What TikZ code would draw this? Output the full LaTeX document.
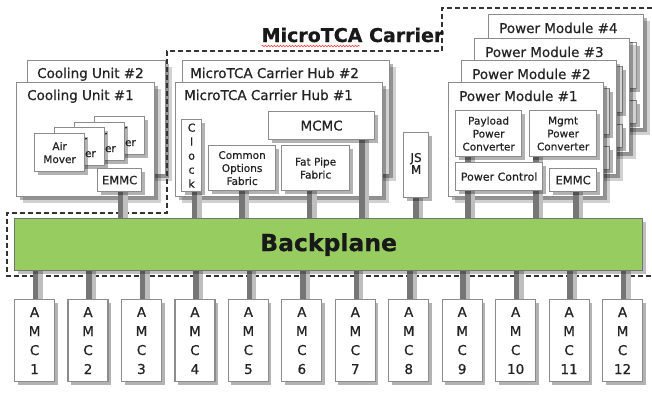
\documentclass[tikz,border=0pt]{standalone}
\usepackage{fontspec}
\setmainfont{DejaVu Sans}[FakeBold=0.6]
\usetikzlibrary{shadows,decorations.pathmorphing}
\pgfdeclarelayer{back}\pgfdeclarelayer{mid}
\pgfsetlayers{back,mid,main}
\definecolor{bord}{RGB}{140,140,140}
\definecolor{bpgreen}{RGB}{150,204,96}
\definecolor{stubc}{RGB}{118,118,118}
\definecolor{txt}{RGB}{35,35,35}
\newcommand\myfs[2]{\fontsize{#1}{#2}\selectfont}
\tikzset{
 box/.style={draw=bord,line width=1.2pt,fill=white,inner sep=0pt,anchor=north west,text=txt,align=center,
   drop shadow={shadow xshift=3pt,shadow yshift=-3pt,opacity=.3,fill=black}},
 bigsh/.style={drop shadow={shadow xshift=6pt,shadow yshift=-6pt,opacity=.18,fill=black}},
 ttl/.style={anchor=base west,inner sep=0pt,text=txt,font=\myfs{13.5}{16}},
 small/.style={font=\myfs{10.5}{13}},
 stub/.style={line width=5.5pt,draw=stubc,preaction={draw=black!25,line width=6pt,transform canvas={xshift=4pt}}},
 dashline/.style={draw=black!80,line width=1.1pt,dash pattern=on 5pt off 3pt},
}
\newcommand\bx[6][]{\node[box,minimum width=#4pt,minimum height=#5pt,#1] (#2) at (#3) {#6};}
\newcommand\pmout[3]{\begin{scope}[shift={(#2,#3)}]
 \bx[bigsh]{pm#1}{0,0}{155}{114}{}
 \node[ttl] (pm#1t) at (11,19) {Power Module \##1};
\end{scope}}
% hidden modules: inner boxes without readable text
\newcommand\pminhid[3]{\begin{scope}[shift={(#2,#3)}]
 \bx{pm#1pay}{7,28}{66}{46}{}
 \bx{pm#1mg}{81,28}{67}{46}{}
 \bx{pm#1ctl}{7,80}{87}{28}{}
 \bx{pm#1em}{101,86}{47}{23}{}
\end{scope}}
\newcommand\pmin[3]{\begin{scope}[shift={(#2,#3)}]
 \bx[small]{pm#1pay}{7,28}{66}{46}{Payload\\Power\\Converter}
 \bx[small]{pm#1mg}{81,28}{67}{46}{Mgmt\\Power\\Converter}
 \bx[font=\myfs{11}{13}]{pm#1ctl}{7,80}{87}{28}{Power Control}
 \bx[font=\myfs{11.5}{13}]{pm#1em}{101,86}{47}{23}{EMMC}
\end{scope}}
\begin{document}
\begin{tikzpicture}[x=1pt,y=-1pt]
\useasboundingbox (0,0) rectangle (652,392);
\begin{pgfonlayer}{back}
 % cooling units
 \bx[bigsh]{cu2}{27,60}{138}{114}{}
 \node[ttl] (cu2t) at (37,78) {Cooling Unit \#2};
 \bx[bigsh]{cu1}{16,82}{138}{114}{}
 \node[ttl] (cu1t) at (27,100) {Cooling Unit \#1};
 % hubs
 \bx[bigsh]{hub2}{182,60}{207}{114}{}
 \node[ttl] (hub2t) at (190,78) {MicroTCA Carrier Hub \#2};
 \bx[bigsh]{hub1}{175,82}{207}{114}{}
 \node[ttl] (hub1t) at (184,100) {MicroTCA Carrier Hub \#1};
 % power modules
 \pmout{4}{488}{14}\pminhid{4}{488}{14}
 \pmout{3}{474}{38}\pminhid{3}{474}{38}
 \pmout{2}{461}{60}\pminhid{2}{461}{60}
 \pmout{1}{448}{82}
 % carrier outline
 \draw[dashline] (652,8) -- (442,8) -- (442,51) -- (167,51) -- (167,213) -- (7,213) -- (7,276) -- (652,276);
\end{pgfonlayer}
% cooling unit contents
\bx[small]{am4}{94,116}{50}{38}{Air\\Mover}
\bx[small]{am3}{74,122}{50}{38}{Air\\Mover}
\bx[small]{am2}{54,127}{50}{38}{Air\\Mover}
\bx[small]{am1}{34,133}{50}{38}{Air\\Mover}
\bx[font=\myfs{11.5}{13}]{cuem}{97,168}{44}{23}{EMMC}
% hub contents
\bx[font=\myfs{11}{14}]{clock}{181,119}{20}{72}{C\\l\\o\\c\\k}
\bx[small]{cof}{208,145}{67}{45}{Common\\Options\\Fabric}
\bx[small]{fpf}{281,145}{68}{45}{Fat Pipe\\Fabric}
\bx[font=\myfs{13.5}{15}]{mcmc}{268,111}{106}{28}{MCMC}
% JSM
\bx[font=\myfs{12}{14}]{jsm}{403,132}{25}{65}{\raisebox{6pt}{\begin{tabular}{@{}c@{}}JS\\[-2pt]M\end{tabular}}}
% power module 1 contents
\pmin{1}{448}{82}
% backplane
\node[draw=black!55,line width=1.2pt,fill=bpgreen,anchor=north west,minimum width=628pt,minimum height=52pt,
  inner sep=0pt,font=\bfseries\myfs{23.5}{26},text=black!90,
  drop shadow={shadow xshift=3pt,shadow yshift=-3pt,opacity=.25,fill=black}] (bp) at (14,218) {Backplane};
% AMC modules
\foreach \i in {1,...,12}{
  \pgfmathsetmacro\xx{14+53.45*(\i-1)}
  \bx[font=\myfs{13.5}{19}]{amc\i}{\xx,299}{40}{82}{A\\M\\C\\\i}
}
% title
\node[anchor=base,inner sep=0pt,font=\bfseries\myfs{19}{20},text=black!90] (title) at (352.5,42) {MicroTCA Carrier};
\draw[red!75,line width=0.6pt,decorate,decoration={snake,amplitude=0.8pt,segment length=3pt}] ([yshift=-4pt]title.base west) -- ([yshift=-4pt,xshift=98pt]title.base west);
% stubs
\begin{pgfonlayer}{mid}
 \draw[stub] ([xshift=1pt]cuem.south) -- ([xshift=1pt]cuem.south |- bp.north);
 \draw[stub] ([xshift=3pt]clock.south) -- ([xshift=3pt]clock.south |- bp.north);
 \draw[stub] (cof.south) -- (cof.south |- bp.north);
 \draw[stub] ([xshift=-6pt]fpf.south) -- ([xshift=-6pt]fpf.south |- bp.north);
 \draw[stub] ([xshift=-13pt]mcmc.south east) -- ([xshift=-13pt]mcmc.south east |- bp.north);
 \draw[stub] (jsm.south) -- (jsm.south |- bp.north);
 \draw[stub] ([xshift=13pt]pm1pay.south west) -- ([xshift=13pt]pm1pay.south west |- pm1ctl.north);
 \draw[stub] ([xshift=13pt]pm1ctl.south west) -- ([xshift=13pt]pm1ctl.south west |- bp.north);
 \draw[stub] ([xshift=7pt]pm1mg.south west) -- ([xshift=7pt]pm1mg.south west |- bp.north);
 \draw[stub] ([xshift=3pt]pm1em.south) -- ([xshift=3pt]pm1em.south |- bp.north);
 \foreach \i in {1,...,12}{
   \draw[stub] ([xshift=1pt]amc\i.north |- bp.south) -- ([xshift=1pt]amc\i.north);
 }
\end{pgfonlayer}
\end{tikzpicture}
\end{document}
